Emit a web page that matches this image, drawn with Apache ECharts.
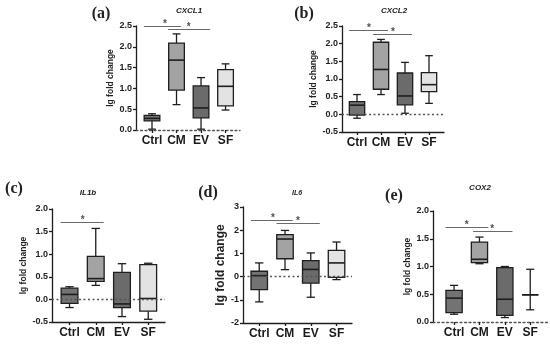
<!DOCTYPE html>
<html><head><meta charset="utf-8">
<script src="https://cdn.jsdelivr.net/npm/echarts@6/dist/echarts.min.js"></script>
<style>html,body{margin:0;padding:0;background:#fff}#c{width:550px;height:344px}</style>
</head><body><div id="c"></div>
<script>
// ---------- data ----------
const categories = ['Ctrl', 'CM', 'EV', 'SF'];
const panelLabels = ['(a)', '(b)', '(c)', '(d)', '(e)'];
const genes = ['CXCL1', 'CXCL2', 'IL1b', 'IL6', 'COX2'];
const yTitle = 'lg fold change';

// box statistics per category: [min, Q1, median, Q3, max]
const cxcl1 = [[0.02, 0.22, 0.28, 0.35, 0.39], [0.61, 0.96, 1.68, 2.09, 2.31], [0.02, 0.29, 0.53, 1.06, 1.26], [0.48, 0.58, 1.05, 1.45, 1.59]];
const cxcl2 = [[-0.11, -0.02, 0.26, 0.36, 0.56], [0.56, 0.71, 1.27, 2.04, 2.12], [0.03, 0.27, 0.52, 1.17, 1.47], [0.31, 0.64, 0.84, 1.18, 1.66]];
const il1b  = [[-0.18, -0.09, 0.11, 0.25, 0.28], [0.31, 0.40, 0.46, 0.95, 1.57], [-0.38, -0.18, -0.10, 0.60, 0.79], [-0.44, -0.26, 0.02, 0.77, 0.80]];
const il6   = [[-1.09, -0.56, 0.04, 0.23, 0.59], [0.30, 0.77, 1.62, 1.81, 1.99], [-0.89, -0.28, 0.31, 0.69, 1.02], [-0.13, -0.03, 0.59, 1.13, 1.49]];
const cox2  = [[0.14, 0.17, 0.43, 0.57, 0.66], [1.05, 1.07, 1.13, 1.44, 1.53], [0.08, 0.12, 0.41, 0.98, 1.00], [0.22, 0.49, 0.49, 0.49, 0.95]];

// y axis ranges and tick steps
const yMin  = [0, -0.5, -0.5, -2, 0];
const yMax  = [2.5, 2.5, 2.0, 3, 2.0];
const yStep = [0.5, 0.5, 0.5, 1, 0.5];

// significance brackets: [fromCategory, toCategory, level, starPosition]
const sigA = [[-0.33, 1.18, 2.50, 0.53], [0.65, 2.37, 2.43, 1.5]];
const sigB = [[-0.33, 1.29, 2.37, 0.5], [0.67, 2.29, 2.27, 1.5]];
const sigC = [[-0.34, 1.30, 1.70, 0.5]];
const sigD = [[-0.32, 1.30, 2.43, 0.53], [0.67, 2.35, 2.28, 1.5]];
const sigE = [[-0.34, 1.35, 1.70, 0.5], [0.75, 2.30, 1.64, 1.5]];

const panelData = [cxcl1, cxcl2, il1b, il6, cox2];
const panelSig = [sigA, sigB, sigC, sigD, sigE];

// ---------- layout / style ----------
const FONT = '"Liberation Sans", Arial, sans-serif';
const INK = '#1e1e1e';
const fills = ['#737373', '#a3a3a3', '#6b6b6b', '#e3e3e3'];
const grids = [
  {left: 136, top: 26, width: 104, height: 104},
  {left: 342, top: 26, width: 102, height: 106},
  {left: 52, top: 209, width: 113, height: 113},
  {left: 243, top: 207, width: 109, height: 116},
  {left: 433, top: 211, width: 115, height: 111}
];
const xRange = [[-0.653, 3.59], [-0.625, 3.625], [-0.668, 3.64], [-0.63, 3.6], [-0.83, 3.7]];
const nameGaps = [16, 20, 20, 12, 16];
const nameSizes = [8.5, 8.5, 8.5, 12, 8.5];
const labelPos = [[101, 14], [304, 14], [14, 189], [208, 193], [394, 196]];
const genePos = [[189, 11], [394, 11], [88, 193], [297, 193], [480, 188]];
const geneSizes = [8, 8, 8, 7, 8];
const BOX_W = 0.64;
const DOT = [2, 2.5];

function renderBox(params, api) {
  const i = api.value(0);
  const lo = api.value(1), q1 = api.value(2), md = api.value(3), q3 = api.value(4), hi = api.value(5);
  const cx = api.coord([i, md])[0];
  const y = v => api.coord([i, v])[1];
  const w = api.size([BOX_W, 0])[0];
  const cap = w * 0.5;
  const ls = {stroke: INK, lineWidth: 1.3};
  return {
    type: 'group',
    children: [
      {type: 'line', shape: {x1: cx, y1: y(hi), x2: cx, y2: y(q3)}, style: ls},
      {type: 'line', shape: {x1: cx, y1: y(q1), x2: cx, y2: y(lo)}, style: ls},
      {type: 'line', shape: {x1: cx - cap / 2, y1: y(hi), x2: cx + cap / 2, y2: y(hi)}, style: ls},
      {type: 'line', shape: {x1: cx - cap / 2, y1: y(lo), x2: cx + cap / 2, y2: y(lo)}, style: ls},
      {type: 'rect', shape: {x: cx - w / 2, y: y(q3), width: w, height: y(q1) - y(q3)},
        style: {fill: fills[i], stroke: INK, lineWidth: 1.3}},
      {type: 'line', shape: {x1: cx - w / 2, y1: y(md), x2: cx + w / 2, y2: y(md)}, style: {stroke: INK, lineWidth: 1.6}}
    ]
  };
}

const option = {
  animation: false,
  backgroundColor: '#fff',
  grid: grids.map(g => Object.assign({containLabel: false}, g)),
  xAxis: [], yAxis: [], series: [],
  graphic: []
};

for (let k = 0; k < 5; k++) {
  const zeroBottom = yMin[k] === 0;
  option.xAxis.push({
    gridIndex: k, type: 'value', min: xRange[k][0], max: xRange[k][1],
    axisLine: {show: true, onZero: false, lineStyle: {color: zeroBottom ? '#555' : INK, width: 1.3, type: zeroBottom ? DOT : 'solid'}},
    axisTick: {show: true, customValues: [0, 1, 2, 3], length: 3, lineStyle: {color: INK, width: 1.3}},
    axisLabel: {show: true, customValues: [0, 1, 2, 3], formatter: v => categories[Math.round(v)],
      fontFamily: FONT, fontWeight: 'bold', fontSize: 12, color: '#1a1a1a', margin: 5},
    splitLine: {show: false}
  });
  option.yAxis.push({
    gridIndex: k, type: 'value', min: yMin[k], max: yMax[k], interval: yStep[k],
    name: yTitle, nameLocation: 'middle', nameGap: nameGaps[k],
    nameTextStyle: {fontFamily: FONT, fontWeight: 'bold', fontSize: nameSizes[k], color: '#222'},
    axisLine: {show: true, onZero: false, lineStyle: {color: INK, width: 1.3}},
    axisTick: {show: true, length: 3, lineStyle: {color: INK, width: 1.3}},
    axisLabel: {fontFamily: FONT, fontWeight: 'bold', fontSize: 9, color: '#222', margin: 4,
      formatter: v => v.toFixed(yStep[k] < 1 ? 1 : 0)},
    splitLine: {show: false}
  });

  const boxSeries = {
    type: 'custom', xAxisIndex: k, yAxisIndex: k,
    renderItem: renderBox,
    encode: {x: 0, y: [1, 2, 3, 4, 5]},
    data: panelData[k].map((s, i) => [i].concat(s)),
    z: 3
  };
  if (!zeroBottom) {
    boxSeries.markLine = {
      silent: true, symbol: ['none', 'none'], label: {show: false},
      lineStyle: {color: '#555', width: 1.3, type: DOT},
      data: [{yAxis: 0}]
    };
  }
  option.series.push(boxSeries);

  const sig = panelSig[k];
  option.series.push({
    type: 'scatter', xAxisIndex: k, yAxisIndex: k, symbolSize: 0, silent: true,
    data: sig.map(b => [b[3], b[2]]),
    label: {show: true, formatter: '*', position: 'top', distance: -3,
      fontFamily: FONT, fontWeight: 'bold', fontSize: 10, color: '#222'},
    markLine: {
      silent: true, symbol: ['none', 'none'], label: {show: false},
      lineStyle: {color: '#6a6a6a', width: 1.1, type: 'solid'},
      data: sig.map(b => [{coord: [b[0], b[2]]}, {coord: [b[1], b[2]]}])
    },
    z: 4
  });

  option.graphic.push({
    type: 'text', x: labelPos[k][0], y: labelPos[k][1],
    style: {text: panelLabels[k], font: 'bold 16px "Liberation Serif", "Times New Roman", serif',
      fill: '#222', align: 'center', verticalAlign: 'middle'}
  });
  option.graphic.push({
    type: 'text', x: genePos[k][0], y: genePos[k][1],
    style: {text: genes[k], font: 'italic bold ' + geneSizes[k] + 'px ' + FONT,
      fill: '#222', align: 'center', verticalAlign: 'middle'}
  });
}

const chart = echarts.init(document.getElementById('c'), null, {renderer: 'canvas'});
chart.setOption(option);
</script>
</body></html>
